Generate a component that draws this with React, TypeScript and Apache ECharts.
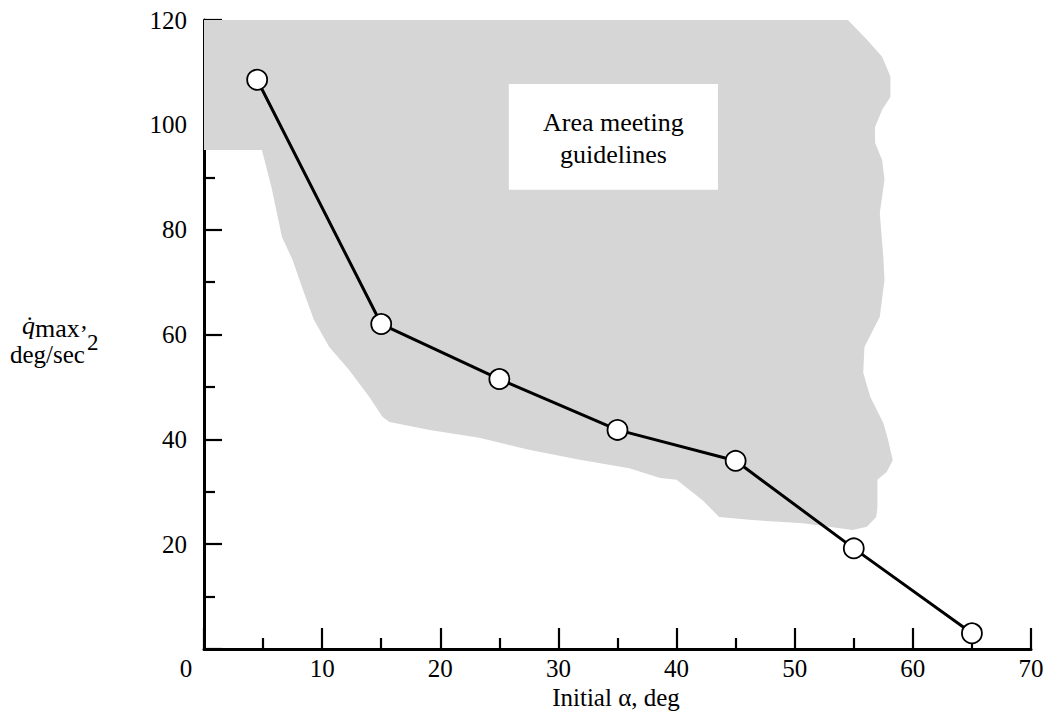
import React, { useEffect, useRef } from "react";
import * as echarts from "echarts";

// Measured series: initial alpha (deg) vs q-dot max (deg/sec^2)
const alphaValues = [4.5, 15, 25, 35, 45, 55, 65];
const qdotValues = [108.6, 62, 51.5, 41.8, 35.9, 19.2, 3];

// Outline of the shaded "area meeting guidelines" region (data units)
const shadeX = [
  0, 54.5, 56.1, 57.4, 58.1, 58.1, 57.4, 56.8, 56.8, 57.4, 57.6, 57.2, 57.5, 57.6, 57.2,
  55.9, 55.8, 56.4, 57.5, 57.9, 58.3, 57.8, 57.0, 57.0, 56.9, 56.1, 54.9, 50.7, 46.4,
  43.6, 42.2, 40.0, 38.6, 36.0, 31.8, 27.5, 23.3, 19.1, 15.7, 15.1, 14.0, 12.3, 10.6,
  9.3, 8.3, 7.5, 6.6, 5.7, 4.9, 0,
];
const shadeY = [
  120, 120, 116.3, 113, 109.2, 105.3, 102.9, 99.6, 96.6, 93.3, 89.5, 83.2, 74.8, 70.4, 63.4,
  57.6, 52.7, 48.1, 43.1, 39.9, 36, 33.8, 32.3, 27, 25.2, 23.3, 22.7, 24, 24.6,
  25.2, 28.4, 32.3, 32.6, 34.5, 36.1, 38, 40.3, 41.8, 43.3, 44.3, 48.1, 53.2, 57.6,
  62.8, 69, 74.2, 78.6, 88.2, 95.2, 95.2,
];

// Annotation box corners (data units) and its text
const boxX = [25.8, 43.5];
const boxY = [107.8, 87.6];
const boxText = "Area meeting\nguidelines";

const xTicks = { min: 0, max: 70, interval: 10 };
const yTicks = { min: 0, max: 120, interval: 20 };

const SERIF = "'Liberation Serif', 'Times New Roman', serif";

export default function App() {
  const ref = useRef<HTMLDivElement>(null);

  useEffect(() => {
    if (!ref.current) return;
    const chart = echarts.init(ref.current, null, { renderer: "svg" });
    chart.setOption({
      animation: false,
      backgroundColor: "#ffffff",
      grid: { left: 204, right: 28, top: 20, bottom: 70, outerBoundsMode: "none" },
      xAxis: {
        type: "value",
        min: xTicks.min,
        max: xTicks.max,
        interval: xTicks.interval,
        axisLine: { show: true, onZero: false, lineStyle: { color: "#000", width: 3 } },
        axisTick: { show: true, inside: true, length: 21, lineStyle: { color: "#000", width: 2.2 } },
        minorTick: { show: true, splitNumber: 2, length: 11, lineStyle: { color: "#000", width: 2.2 } },
        splitLine: { show: false },
        minorSplitLine: { show: false },
        axisLabel: {
          color: "#000",
          fontFamily: SERIF,
          fontSize: 25,
          margin: 7,
          formatter: (v: number) => (v === 0 ? "{z|0}" : String(v)),
          rich: { z: { fontFamily: SERIF, fontSize: 25, color: "#000", padding: [0, 36, 0, 0] } },
        },
      },
      yAxis: {
        type: "value",
        min: yTicks.min,
        max: yTicks.max,
        interval: yTicks.interval,
        axisLine: { show: true, onZero: false, lineStyle: { color: "#000", width: 3 } },
        axisTick: { show: true, inside: true, length: 18, lineStyle: { color: "#000", width: 2.2 } },
        minorTick: { show: true, splitNumber: 2, length: 11, lineStyle: { color: "#000", width: 2.2 } },
        splitLine: { show: false },
        minorSplitLine: { show: false },
        axisLabel: {
          color: "#000",
          fontFamily: SERIF,
          fontSize: 25,
          margin: 17,
          formatter: (v: number) => (v === 0 ? "" : String(v)),
        },
      },
      graphic: [
        {
          type: "text",
          x: 616,
          y: 697,
          style: {
            text: "Initial α, deg",
            font: `25px ${SERIF}`,
            fill: "#000",
            align: "center",
            verticalAlign: "middle",
          },
        },
        {
          type: "text",
          x: 22,
          y: 325,
          style: {
            text: "q\u0307",
            font: `italic 26px ${SERIF}`,
            fill: "#000",
            verticalAlign: "middle",
          },
        },
        {
          type: "text",
          x: 35,
          y: 328,
          style: { text: "max", font: `26px ${SERIF}`, fill: "#000", verticalAlign: "middle" },
        },
        {
          type: "text",
          x: 81,
          y: 320,
          style: { text: ",", font: `24px ${SERIF}`, fill: "#000", verticalAlign: "middle" },
        },
        {
          type: "text",
          x: 10,
          y: 354,
          style: { text: "deg/sec", font: `25px ${SERIF}`, fill: "#000", verticalAlign: "middle" },
        },
        {
          type: "text",
          x: 87,
          y: 342,
          style: { text: "2", font: `23px ${SERIF}`, fill: "#000", verticalAlign: "middle" },
        },
      ],
      series: [
        {
          type: "custom",
          name: "shade",
          z: 1,
          silent: true,
          clip: false,
          data: [[0, 0]],
          renderItem: (_params: any, api: any) => {
            const pts = shadeX.map((x, i) => api.coord([x, shadeY[i]]));
            return {
              type: "polygon",
              shape: { points: pts },
              style: { fill: "#d6d6d6", stroke: "none" },
            };
          },
        },
        {
          type: "custom",
          name: "box",
          z: 2,
          silent: true,
          clip: false,
          data: [[0, 0]],
          renderItem: (_params: any, api: any) => {
            const p1 = api.coord([boxX[0], boxY[0]]);
            const p2 = api.coord([boxX[1], boxY[1]]);
            return {
              type: "group",
              children: [
                {
                  type: "rect",
                  shape: { x: p1[0], y: p1[1], width: p2[0] - p1[0], height: p2[1] - p1[1] },
                  style: { fill: "#ffffff", stroke: "none" },
                },
                {
                  type: "text",
                  x: (p1[0] + p2[0]) / 2,
                  y: (p1[1] + p2[1]) / 2 + 2,
                  style: {
                    text: boxText,
                    font: `26px ${SERIF}`,
                    fill: "#000",
                    align: "center",
                    verticalAlign: "middle",
                    lineHeight: 32,
                  },
                },
              ],
            };
          },
        },
        {
          type: "line",
          name: "qdot",
          z: 5,
          data: alphaValues.map((x, i) => [x, qdotValues[i]]),
          lineStyle: { color: "#000", width: 3 },
          symbol: "circle",
          symbolSize: 20,
          itemStyle: { color: "#fff", borderColor: "#000", borderWidth: 1.8 },
          emphasis: { disabled: true },
        },
      ],
    });
    return () => chart.dispose();
  }, []);

  return (
    <div
      ref={ref}
      style={{ position: "fixed", left: 0, top: 0, width: 1059, height: 719, background: "#fff" }}
    />
  );
}
